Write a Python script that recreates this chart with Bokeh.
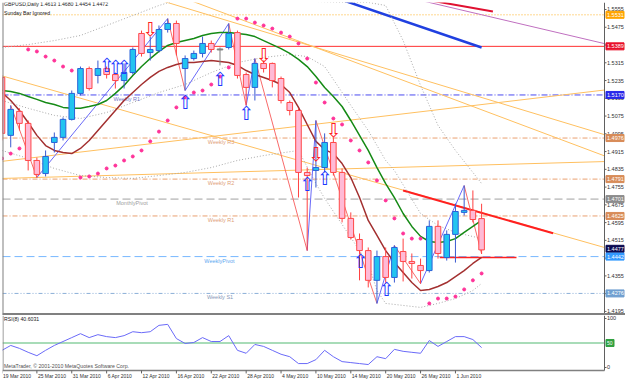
from bokeh.plotting import figure
from bokeh.models import Range1d, Span, ColumnDataSource
from bokeh.layouts import column
from bokeh.embed import file_html
from bokeh.resources import INLINE
from bokeh.core.properties import value

FONT = "Liberation Sans"

# ---------------- data ----------------
date_ticks = [0, 4, 8, 12, 16, 20, 24, 28, 32, 36, 40, 44, 48, 52]
date_labels = ["19 Mar 2010", "25 Mar 2010", "31 Mar 2010", "6 Apr 2010", "12 Apr 2010",
               "16 Apr 2010", "22 Apr 2010", "28 Apr 2010", "4 May 2010", "10 May 2010",
               "14 May 2010", "20 May 2010", "26 May 2010", "1 Jun 2010"]

price_ticks = [1.4195, 1.4275, 1.4355, 1.4435, 1.4515, 1.4595, 1.4675, 1.4755, 1.4835,
               1.4915, 1.4995, 1.5075, 1.5155, 1.5235, 1.5315, 1.5395, 1.5475, 1.5555]
rsi_ticks = [0, 100]

opens = [1.5249, 1.4988, 1.5096, 1.5042, 1.4875, 1.4816, 1.4956, 1.4979, 1.5060, 1.5177,
         1.5289, 1.5258, 1.5289, 1.5262, 1.5235, 1.5271, 1.5447, 1.5361, 1.5370, 1.5465,
         1.5492, 1.5289, 1.5334, 1.5357, 1.5402, 1.5375, 1.5384, 1.5451, 1.5262, 1.5204,
         1.5312, 1.5312, 1.5244, 1.5136, 1.5100, 1.4821, 1.4830, 1.4843, 1.4956, 1.4821,
         1.4614, 1.4519, 1.4469, 1.4335, 1.4442, 1.4348, 1.4465, 1.4420, 1.4402, 1.4379,
         1.4578, 1.4438, 1.4542, 1.4641, 1.4650, 1.4613]
highs = [1.5258, 1.5123, 1.5110, 1.5055, 1.4888, 1.4920, 1.5001, 1.5069, 1.5190, 1.5298,
         1.5298, 1.5325, 1.5298, 1.5271, 1.5312, 1.5384, 1.5460, 1.5433, 1.5483, 1.5514,
         1.5505, 1.5348, 1.5370, 1.5433, 1.5415, 1.5384, 1.5492, 1.5460, 1.5271, 1.5334,
         1.5325, 1.5316, 1.5253, 1.5145, 1.5110, 1.4843, 1.5055, 1.4997, 1.4979, 1.4839,
         1.4641, 1.4546, 1.4483, 1.4469, 1.4483, 1.4492, 1.4523, 1.4456, 1.4433, 1.4605,
         1.4605, 1.4560, 1.4681, 1.4762, 1.4740, 1.4680]
lows = [1.4965, 1.4934, 1.5010, 1.4830, 1.4798, 1.4803, 1.4911, 1.4965, 1.5055, 1.5168,
        1.5190, 1.5222, 1.5244, 1.5199, 1.5199, 1.5262, 1.5343, 1.5325, 1.5361, 1.5451,
        1.5348, 1.5190, 1.5325, 1.5339, 1.5361, 1.5303, 1.5375, 1.5244, 1.5123, 1.5145,
        1.5271, 1.5204, 1.5132, 1.5078, 1.4708, 1.4469, 1.4753, 1.4821, 1.4807, 1.4596,
        1.4519, 1.4335, 1.4303, 1.4231, 1.4321, 1.4325, 1.4330, 1.4343, 1.4320, 1.4370,
        1.4433, 1.4424, 1.4415, 1.4627, 1.4596, 1.4454]
closes = [1.4997, 1.5105, 1.5042, 1.4875, 1.4812, 1.4893, 1.4979, 1.5060, 1.5177, 1.5289,
          1.5199, 1.5289, 1.5262, 1.5235, 1.5271, 1.5375, 1.5357, 1.5375, 1.5465, 1.5492,
          1.5402, 1.5334, 1.5357, 1.5402, 1.5375, 1.5375, 1.5447, 1.5258, 1.5204, 1.5312,
          1.5289, 1.5235, 1.5145, 1.5100, 1.4821, 1.4807, 1.4843, 1.4956, 1.4821, 1.4614,
          1.4528, 1.4469, 1.4335, 1.4442, 1.4348, 1.4483, 1.4420, 1.4411, 1.4379, 1.4578,
          1.4456, 1.4542, 1.4645, 1.4650, 1.4609, 1.4472]

ma_green = [1.5190, 1.5186, 1.5177, 1.5163, 1.5150, 1.5136, 1.5127, 1.5114, 1.5110, 1.5110,
            1.5118, 1.5127, 1.5145, 1.5177, 1.5213, 1.5258, 1.5298, 1.5334, 1.5366, 1.5393,
            1.5406, 1.5415, 1.5424, 1.5438, 1.5447, 1.5451, 1.5451, 1.5447, 1.5442, 1.5433,
            1.5415, 1.5397, 1.5379, 1.5357, 1.5330, 1.5298, 1.5253, 1.5204, 1.5163, 1.5118,
            1.5055, 1.4988, 1.4920, 1.4843, 1.4771, 1.4708, 1.4636, 1.4578, 1.4533, 1.4510,
            1.4505, 1.4510, 1.4523, 1.4551, 1.4578, 1.4605]
ma_brown = [1.5181, 1.5145, 1.5100, 1.5046, 1.4988, 1.4942, 1.4920, 1.4911, 1.4906, 1.4929,
            1.4965, 1.5010, 1.5055, 1.5100, 1.5145, 1.5181, 1.5217, 1.5249, 1.5276, 1.5294,
            1.5307, 1.5316, 1.5316, 1.5321, 1.5325, 1.5321, 1.5316, 1.5303, 1.5280, 1.5262,
            1.5249, 1.5235, 1.5217, 1.5181, 1.5114, 1.5037, 1.4961, 1.4924, 1.4906, 1.4861,
            1.4798, 1.4708, 1.4605, 1.4537, 1.4469, 1.4415, 1.4370, 1.4325, 1.4289, 1.4294,
            1.4307, 1.4325, 1.4352, 1.4379, 1.4411, 1.4438]

bb_up_bars = [0, 3, 6, 9, 12, 15, 18, 21, 24, 27, 30, 33, 36, 39, 42, 44, 46, 48, 50, 52, 54, 55]
bb_upper = [1.5384, 1.5397, 1.5415, 1.5438, 1.5483, 1.5528, 1.5573, 1.5609, 1.5618, 1.5614,
            1.5605, 1.5596, 1.5591, 1.5587, 1.5587, 1.5573, 1.5415, 1.5213, 1.5033, 1.4920,
            1.4821, 1.4771]
bb_mid_bars = [0, 3, 6, 9, 12, 15, 18, 21, 24, 27, 30, 33, 35, 37, 40, 42, 44, 45, 48, 50, 52, 55]
bb_middle = [1.5145, 1.5110, 1.5078, 1.5064, 1.5091, 1.5136, 1.5181, 1.5217, 1.5271, 1.5316,
             1.5339, 1.5352, 1.5343, 1.5298, 1.5123, 1.5010, 1.4875, 1.4830, 1.4636, 1.4582,
             1.4551, 1.4523]
bb_low_bars = [0, 3, 6, 9, 12, 15, 18, 21, 24, 27, 30, 34, 36, 37, 40, 42, 43, 44, 46, 48, 50, 52, 54, 55]
bb_lower = [1.4920, 1.4884, 1.4839, 1.4807, 1.4798, 1.4794, 1.4807, 1.4821, 1.4843, 1.4875,
            1.4897, 1.4920, 1.4771, 1.4704, 1.4528, 1.4411, 1.4289, 1.4231, 1.4222, 1.4213,
            1.4231, 1.4253, 1.4289, 1.4321]

sar = [1.4884, 1.4906, 1.4929, 1.5375, 1.5366, 1.5343, 1.5325, 1.5298, 1.5280, 1.4798,
       1.4803, 1.4816, 1.4839, 1.4852, 1.4875, 1.4893, 1.4920, 1.4961, 1.5005, 1.5055,
       1.5114, 1.5159, 1.5181, 1.5190, 1.5217, 1.5253, 1.5294, 1.5514, 1.5514, 1.5496,
       1.5483, 1.5469, 1.5451, 1.5433, 1.5402, 1.5334, 1.5226, 1.5136, 1.5064, 1.5037,
       1.4965, 1.4920, 1.4866, 1.4785, 1.4695, 1.4614, 1.4546, 1.4523, 1.4523, 1.4231,
       1.4253, 1.4253, 1.4262, 1.4294, 1.4335, 1.4366]

zigzag_bars = [1, 4, 19, 21, 26, 28, 29, 35, 36, 43, 45, 48, 53, 55]
zigzag_prices = [1.5123, 1.4798, 1.5514, 1.5190, 1.5492, 1.5123, 1.5334, 1.4469, 1.5055,
                 1.4231, 1.4492, 1.4320, 1.4762, 1.4454]

up_arrow_bars = [12, 13, 14, 21, 25, 28, 35, 37, 41.1, 44.1]
up_arrow_prices = [1.5307, 1.5298, 1.5294, 1.5138, 1.5240, 1.5091, 1.4771, 1.4794, 1.4424, 1.4298]
down_arrow_bars = [17, 30, 36, 38]
down_arrow_prices = [1.5465, 1.5348, 1.4906, 1.5010]

rsi = [35, 45, 39, 31, 24, 35, 45, 53, 61, 69, 61, 67, 63, 61, 65, 73, 71, 73, 86, 88,
       59, 49, 51, 61, 53, 53, 65, 35, 29, 47, 43, 35, 27, 22, 8, 8, 16, 35, 22, 12,
       10, 8, 6, 22, 18, 37, 33, 31, 29, 55, 43, 53, 63, 63, 57, 40.6]
rsi_level = 50

level_prices = [1.5531, 1.5389, 1.5170, 1.4976, 1.4791, 1.4701, 1.4625, 1.4442, 1.4276]
level_colors = ["#ffb020", "#ff3030", "#4a4af0", "#eaa070", "#eaa070", "#a0a0a0",
                "#eaa070", "#78b8ff", "#8cb0d8"]
level_dashes = ["1 2", "solid", "6 2 1 2", "5 2 1 2", "5 2 1 2", "8 4", "5 2 1 2", "8 4",
                "4 2 1 2 1 2"]
level_texts = ["Weekly R1", "Weekly R3", "Weekly R2", "MonthlyPivot", "Weekly R1",
               "WeeklyPivot", "Weekly S1"]
level_text_prices = [1.5170, 1.4976, 1.4791, 1.4701, 1.4625, 1.4442, 1.4276]
level_text_bars = [12.8, 23.6, 23.6, 13.1, 23.6, 23.2, 23.5]
level_text_colors = ["#7878c8", "#e0a078", "#e0a078", "#a0a0a0", "#e0a078", "#60a8f0",
                     "#8898b8"]

tag_texts = ["1.5531", "1.5389", "1.5170", "1.4976", "1.4791", "1.4701", "1.4625",
             "1.4477", "1.4442", "1.4276"]
tag_prices = [1.5531, 1.5389, 1.5170, 1.4976, 1.4791, 1.4701, 1.4625, 1.4477, 1.4442, 1.4276]
tag_colors = ["#ffa500", "#e8102a", "#2828e8", "#d88c58", "#d88c58", "#8c8c8c", "#d88c58",
              "#0a0a50", "#3399ff", "#6f9fd0"]

trend_intercepts = [1.5256, 1.4871, 1.4794, 1.5812, 1.5914, 1.6039]
trend_slopes = [-0.001119, 0.000465, 0.00011, -0.001188, -0.001474, -0.000923]
trend_colors = ["#ffc060", "#ffc060", "#ffc060", "#ffc060", "#ffc060", "#c070c0"]

seg_bar0 = [39.0, 48.5, 46.0, 50.2]
seg_p0 = [1.5598, 1.5600, 1.4740, 1.4438]
seg_bar1 = [55.0, 56.3, 63.2, 59.0]
seg_p1 = [1.5384, 1.5546, 1.4547, 1.4438]
seg_colors = ["#2040e0", "#e01030", "#ff2020", "#ff2020"]
seg_widths = [2.5, 2, 2, 1.5]

# ---------------- layout constants ----------------
BAR_PX = 8.72
X0 = 0.5 / BAR_PX
X1 = X0 + 623 / BAR_PX
AX = 602.5 / BAR_PX
PXB = 1 / BAR_PX
GRAY = "#808080"
SMALL = "5.5px"

bars = list(range(len(opens)))

# ---------------- figure: price ----------------
xr = Range1d(X0, X1)
p = figure(width=625, height=315, x_range=xr, y_range=Range1d(1.41766, 1.55865),
           output_backend="svg", toolbar_location=None, x_axis_location=None,
           y_axis_location=None, min_border_left=2, min_border_right=0,
           min_border_top=2, min_border_bottom=0)
p.background_fill_color = "white"
p.border_fill_color = "white"
p.outline_line_color = None
p.xgrid.visible = False
p.ygrid.visible = False

for lp, lc, ld in zip(level_prices, level_colors, level_dashes):
    p.line([X0, AX], [lp, lp], line_color=lc, line_dash=ld, line_width=1)

for b, m, c in zip(trend_intercepts, trend_slopes, trend_colors):
    p.line([X0, AX], [b + m * X0, b + m * AX], line_color=c, line_width=1)

for b0, p0, b1, p1, c, w in zip(seg_bar0, seg_p0, seg_bar1, seg_p1, seg_colors, seg_widths):
    if b1 > AX:
        p1 = p0 + (p1 - p0) * (AX - b0) / (b1 - b0)
        b1 = AX
    p.line([b0, b1], [p0, p1], line_color=c, line_width=w)

p.line(bb_up_bars, bb_upper, line_color="#a8a8a8", line_dash="1 2", line_width=1)
p.line(bb_mid_bars, bb_middle, line_color="#a8a8a8", line_dash="1 2", line_width=1)
p.line(bb_low_bars, bb_lower, line_color="#a8a8a8", line_dash="1 2", line_width=1)

p.text(x=level_text_bars, y=level_text_prices, text=level_texts, text_color=level_text_colors,
       text_font=value(FONT), text_font_size=SMALL, text_baseline="top",
       text_align="left", y_offset=1)

zz_x0, zz_y0, zz_x1, zz_y1, zz_c = [], [], [], [], []
for k in range(len(zigzag_bars) - 1):
    zz_x0.append(zigzag_bars[k]); zz_y0.append(zigzag_prices[k])
    zz_x1.append(zigzag_bars[k + 1]); zz_y1.append(zigzag_prices[k + 1])
    zz_c.append("#6a6af8" if zigzag_prices[k + 1] > zigzag_prices[k] else "#f86a6a")
p.segment(zz_x0, zz_y0, zz_x1, zz_y1, line_color=zz_c, line_width=1)

p.line(bars, ma_green, line_color="#158a15", line_width=1.5)
p.line(bars, ma_brown, line_color="#a33030", line_width=1.5)

bull = dict(x=[], top=[], bottom=[], h=[], l=[])
bear = dict(x=[], top=[], bottom=[], h=[], l=[])
doji = dict(x=[], y=[], h=[], l=[])
for i, (o, h, l, c) in enumerate(zip(opens, highs, lows, closes)):
    if c == o:
        doji["x"].append(i); doji["y"].append(o); doji["h"].append(h); doji["l"].append(l)
        continue
    d = bull if c > o else bear
    d["x"].append(i); d["top"].append(max(o, c)); d["bottom"].append(min(o, c))
    d["h"].append(h); d["l"].append(l)

p.segment("x", "h", "x", "l", source=ColumnDataSource(bull), line_color="#3a5ad0", line_width=1)
p.segment("x", "h", "x", "l", source=ColumnDataSource(bear), line_color="#ff4040", line_width=1)
p.segment("x", "h", "x", "l", source=ColumnDataSource(doji), line_color=GRAY, line_width=1)
p.vbar(x="x", top="top", bottom="bottom", width=0.64, source=ColumnDataSource(bull),
       fill_color="#22c4f0", line_color="#2a62d8", line_width=1)
p.vbar(x="x", top="top", bottom="bottom", width=0.64, source=ColumnDataSource(bear),
       fill_color="#ffbad6", line_color="#ff4848", line_width=1)
p.rect(x="x", y="y", width=0.64, height=1, height_units="screen",
       source=ColumnDataSource(doji), fill_color=GRAY, line_color=GRAY)

p.scatter(bars, sar, size=3, fill_color="#ff3399", line_color="#ff3399")

p.text(x=up_arrow_bars, y=up_arrow_prices, text=["\u21e7"] * len(up_arrow_bars),
       text_color="#2038ff", text_font=value("DejaVu Sans"), text_font_size="19px",
       text_align="center", text_baseline="middle")
p.text(x=down_arrow_bars, y=down_arrow_prices, text=["\u21e9"] * len(down_arrow_bars),
       text_color="#ff2020", text_font=value("DejaVu Sans"), text_font_size="19px",
       text_align="center", text_baseline="middle")

p.text(x=[X0, X0], y=[1.5578, 1.5541],
       text=["GBPUSD,Daily  1.4613 1.4680 1.4454 1.4472", "Sunday Bar Ignored"],
       x_offset=1.5, text_font=value(FONT), text_font_size="5.2px", text_color="#202020",
       text_baseline="middle", text_align="left")

# price scale
n = len(price_ticks)
p.add_layout(Span(location=AX, dimension="height", line_color="#606060", line_width=1))
p.add_layout(Span(location=X0, dimension="height", line_color=GRAY, line_width=2))
p.add_layout(Span(location=1.41834, dimension="width", line_color=GRAY, line_width=2))
p.segment([AX] * n, price_ticks, [AX + 2 * PXB] * n, price_ticks, line_color="#606060")
p.text(x=[AX] * n, y=price_ticks, text=["%.4f" % t for t in price_ticks], x_offset=2.5,
       text_font=value(FONT), text_font_size=SMALL, text_color="#303030",
       text_baseline="middle", text_align="left")
m = len(tag_prices)
p.rect(x=[AX + 10.5 * PXB] * m, y=tag_prices, width=18, height=7, width_units="screen",
       height_units="screen", fill_color=tag_colors, line_color=tag_colors)
p.text(x=[AX] * m, y=tag_prices, text=tag_texts, x_offset=2.5, text_font=value(FONT),
       text_font_size=SMALL, text_color="white", text_baseline="middle", text_align="left")

# ---------------- figure: RSI ----------------
R_TOP, R_BOT = 106.1, -6.1
r = figure(width=625, height=66, x_range=xr, y_range=Range1d(-28.6, R_TOP),
           output_backend="svg", toolbar_location=None, x_axis_location=None,
           y_axis_location=None, min_border_left=2, min_border_right=0,
           min_border_top=0, min_border_bottom=0)
r.background_fill_color = "white"
r.border_fill_color = "white"
r.outline_line_color = None
r.xgrid.visible = False
r.ygrid.visible = False

r.line([X0, AX], [rsi_level, rsi_level], line_color="#a8dcb8", line_width=2)
r.line(bars, rsi, line_color="#6a6af8", line_width=1)
r.text(x=[X0, X0], y=[99, 3],
       text=["RSI(8) 40.6031", "MetaTrader, \u00a9 2001-2010 MetaQuotes Software Corp."],
       x_offset=1.5, text_font=value(FONT), text_font_size="5.2px",
       text_color=["#202020", "#505050"], text_baseline="middle", text_align="left")

r.line([X0, AX], [R_BOT, R_BOT], line_color=GRAY, line_width=1.5)
r.segment([AX], [R_BOT], [AX], [R_TOP], line_color="#606060", line_width=1)
r.segment([X0 + 0.5 * PXB], [R_BOT], [X0 + 0.5 * PXB], [R_TOP], line_color=GRAY, line_width=1)
k = len(rsi_ticks)
r.segment([AX] * k, rsi_ticks, [AX + 2 * PXB] * k, rsi_ticks, line_color="#606060")
r.text(x=[AX] * k, y=rsi_ticks, text=[str(t) for t in rsi_ticks], x_offset=2.5,
       text_font=value(FONT), text_font_size=SMALL, text_color="#303030",
       text_baseline="middle", text_align="left")
r.rect(x=[AX + 5.5 * PXB], y=[rsi_level], width=8, height=7, width_units="screen",
       height_units="screen", fill_color="#30a040", line_color="#30a040")
r.text(x=[AX], y=[rsi_level], text=[str(rsi_level)], x_offset=2.5, text_font=value(FONT),
       text_font_size="5px", text_color="white", text_baseline="middle", text_align="left")

d = len(date_ticks)
r.segment(date_ticks, [R_BOT] * d, date_ticks, [R_BOT - 6] * d, line_color="#606060")
r.text(x=date_ticks, y=[-16.5] * d, text=date_labels, x_offset=1, text_font=value(FONT),
       text_font_size="5px", text_color="#303030", text_baseline="middle", text_align="left")

layout = column(p, r, spacing=0)
open("out.html", "w").write(file_html(layout, INLINE))
